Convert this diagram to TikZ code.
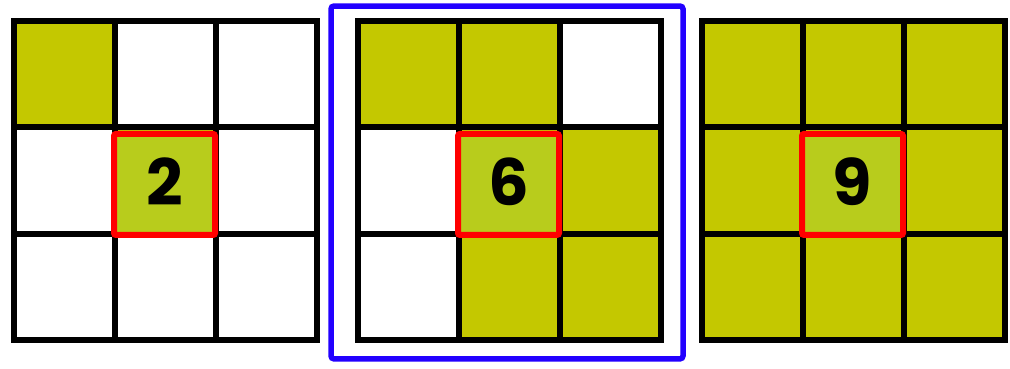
\documentclass[tikz,border=0pt]{standalone}
\usepackage{fontspec}
\setsansfont{Poppins}
\usetikzlibrary{calc, positioning}

\definecolor{cellfill}{RGB}{196,200,0}
\definecolor{centrefill}{RGB}{184,204,28}
\definecolor{frameblue}{RGB}{34,0,255}
\definecolor{markred}{RGB}{255,0,0}

\begin{document}
\begin{tikzpicture}[x=1pt,y=-1pt,
  cell/.style={minimum width=101pt, minimum height=106.3pt, inner sep=0pt, outer sep=0pt},
  gridline/.style={draw=black, line width=6pt},
  markbox/.style={draw=markred, line width=6pt, fill=centrefill, rounded corners=2pt,
    minimum width=101pt, minimum height=101pt, inner sep=0pt,
    font=\sffamily\bfseries\fontsize{64}{64}\selectfont},
  framebox/.style={draw=frameblue, line width=5.5pt, rounded corners=3pt}]
\useasboundingbox (0,0) rectangle (1010,368);

% three 3x3 grids
\foreach \g/\xo in {a/14,b/358,c/702}
  \foreach \r in {0,1,2}
    \foreach \c in {0,1,2}
      \node[cell] (\g-\r-\c) at (\xo+50.5+101*\c, 74.15+106.3*\r) {};

% shaded cells
\foreach \g/\r/\c in {a/0/0,a/1/1,
    b/0/0,b/0/1,b/1/1,b/1/2,b/2/1,b/2/2,
    c/0/0,c/0/1,c/0/2,c/1/0,c/1/1,c/1/2,c/2/0,c/2/1,c/2/2}
  \fill[cellfill] (\g-\r-\c.north west) rectangle (\g-\r-\c.south east);

\foreach \g in {a,b,c}
  \foreach \r in {0,1,2}
    \foreach \c in {0,1,2}
      \draw[gridline] (\g-\r-\c.north west) rectangle (\g-\r-\c.south east);

% centre cell with its count
\foreach \g/\val in {a/2,b/6,c/9}
  \node[markbox] (\g-count) at ($(\g-1-1.center)+(-1,4)$) {\raisebox{5pt}{\val}};

% frame round the middle grid
\draw[framebox] ($(b-0-0.north west)+(-27,-15)$) rectangle ($(b-2-2.south east)+(22,19)$);
\end{tikzpicture}
\end{document}
